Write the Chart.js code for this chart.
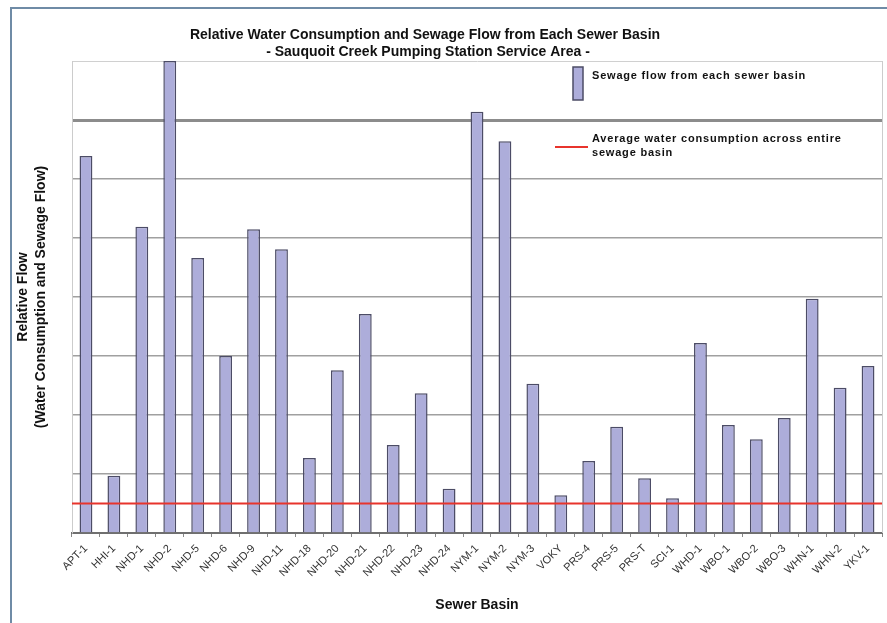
<!DOCTYPE html>
<html>
<head>
<meta charset="utf-8">
<script src="https://cdn.jsdelivr.net/npm/chart.js@4/dist/chart.umd.min.js"></script>
<style>
  html, body { margin: 0; padding: 0; background: #fff; }
  #wrap { position: relative; width: 887px; height: 623px; }
</style>
</head>
<body>
<div id="wrap"><canvas id="myChart" width="887" height="623"></canvas></div>
<script>
// données (unités relatives, 1 = une ligne de grille)
const basins = ['APT-1', 'HHI-1', 'NHD-1', 'NHD-2', 'NHD-5', 'NHD-6', 'NHD-9', 'NHD-11', 'NHD-18',
    'NHD-20', 'NHD-21', 'NHD-22', 'NHD-23', 'NHD-24', 'NYM-1', 'NYM-2', 'NYM-3', 'VOKY',
    'PRS-4', 'PRS-5', 'PRS-T', 'SCI-1', 'WHD-1', 'WBO-1', 'WBO-2', 'WBO-3', 'WHN-1', 'WHN-2', 'YKV-1'];
const sewageFlow = [6.39, 0.97, 5.19, 8.0, 4.66, 3.0, 5.15, 4.81, 1.27,
    2.76, 3.71, 1.49, 2.37, 0.75, 7.14, 6.64, 2.53, 0.64,
    1.22, 1.80, 0.93, 0.59, 3.22, 1.83, 1.59, 1.95, 3.97, 2.46, 2.83];
const avgWater = 0.5;
const yMax = 8;

const titleLines = ['Relative Water Consumption and Sewage Flow from Each Sewer Basin',
    '- Sauquoit Creek Pumping Station Service Area -'];
const legendBar = 'Sewage flow from each sewer basin';
const legendLine = ['Average water consumption across entire', 'sewage basin'];

const barFill = '#adadda';
const barBorder = '#4c4c66';
const redLine = '#e8342c';

// cadre, titre, ligne moyenne et légende
const decorPlugin = {
    id: 'decor',
    beforeDraw(chart) {
        const ctx = chart.ctx;
        ctx.save();
        ctx.strokeStyle = '#6f8ba6';
        ctx.lineWidth = 2;
        ctx.beginPath();
        ctx.moveTo(11, 623);
        ctx.lineTo(11, 8);
        ctx.lineTo(887, 8);
        ctx.stroke();
        ctx.restore();
    },
    afterDatasetsDraw(chart) {
        const ctx = chart.ctx;
        const area = chart.chartArea;
        const y = chart.scales.y.getPixelForValue(avgWater);
        ctx.save();
        ctx.strokeStyle = redLine;
        ctx.lineWidth = 2;
        ctx.beginPath();
        ctx.moveTo(area.left, y);
        ctx.lineTo(area.right, y);
        ctx.stroke();
        // bord droit
        ctx.strokeStyle = '#cccccc';
        ctx.lineWidth = 1;
        ctx.beginPath();
        ctx.moveTo(area.right + 0.5, area.top);
        ctx.lineTo(area.right + 0.5, area.bottom);
        ctx.stroke();
        ctx.restore();
    },
    afterDraw(chart) {
        const ctx = chart.ctx;
        ctx.save();
        ctx.fillStyle = '#111';
        ctx.textAlign = 'center';
        ctx.textBaseline = 'middle';
        ctx.font = 'bold 14px "Liberation Sans", Arial, sans-serif';
        ctx.fillText(titleLines[0], 425, 35);
        ctx.fillText(titleLines[1], 428, 52);

        // légende
        ctx.fillStyle = barFill;
        ctx.strokeStyle = barBorder;
        ctx.lineWidth = 1.5;
        ctx.fillRect(573, 67, 10, 33);
        ctx.strokeRect(573, 67, 10, 33);
        ctx.textAlign = 'left';
        ctx.fillStyle = '#111';
        ctx.font = 'bold 11px "Liberation Sans", Arial, sans-serif';
        ctx.letterSpacing = '0.8px';
        ctx.fillText(legendBar, 592, 76);
        ctx.strokeStyle = redLine;
        ctx.lineWidth = 2;
        ctx.beginPath();
        ctx.moveTo(555, 147);
        ctx.lineTo(588, 147);
        ctx.stroke();
        ctx.fillText(legendLine[0], 592, 139);
        ctx.fillText(legendLine[1], 592, 153);
        ctx.restore();
    }
};

const ctx = document.getElementById('myChart').getContext('2d');
const myChart = new Chart(ctx, {
    type: 'bar',
    data: {
        labels: basins,
        datasets: [{
            label: legendBar,
            data: sewageFlow,
            backgroundColor: barFill,
            borderColor: barBorder,
            borderWidth: 1.5,
            barPercentage: 0.46,
            categoryPercentage: 1
        }]
    },
    options: {
        responsive: false,
        animation: false,
        devicePixelRatio: 1,
        layout: { padding: { top: 61, right: 5, left: 0, bottom: 0 } },
        plugins: {
            legend: { display: false },
            tooltip: { enabled: false }
        },
        scales: {
            x: {
                afterFit: (scale) => { scale.height = 90; },
                grid: {
                    offset: true,
                    drawOnChartArea: false,
                    drawTicks: true,
                    tickLength: 4,
                    color: '#888'
                },
                border: { color: '#6f6f6f', width: 2 },
                ticks: {
                    minRotation: 45,
                    maxRotation: 45,
                    autoSkip: false,
                    padding: 5,
                    color: '#333',
                    font: { family: '"Liberation Sans", Arial, sans-serif', size: 11 }
                },
                title: {
                    display: true,
                    text: 'Sewer Basin',
                    color: '#111',
                    padding: { top: 0, bottom: 9 },
                    font: { family: '"Liberation Sans", Arial, sans-serif', size: 14, weight: 'bold' }
                }
            },
            y: {
                min: 0,
                max: yMax,
                afterFit: (scale) => { scale.width = 72; },
                ticks: { display: false, stepSize: 1 },
                grid: {
                    drawTicks: false,
                    color: (c) => c.tick.value === 7 ? '#8c8c8c' : (c.tick.value === yMax ? '#d0d0d0' : '#a0a0a0'),
                    lineWidth: (c) => c.tick.value === 7 ? 3 : (c.tick.value === yMax ? 1 : 1.5)
                },
                border: { color: '#cccccc', width: 1 },
                title: {
                    display: true,
                    text: ['Relative Flow', '(Water Consumption and Sewage Flow)'],
                    color: '#111',
                    padding: { top: 14, bottom: 0 },
                    font: { family: '"Liberation Sans", Arial, sans-serif', size: 14, weight: 'bold', lineHeight: 1.29 }
                }
            }
        }
    },
    plugins: [decorPlugin]
});
</script>
</body>
</html>
